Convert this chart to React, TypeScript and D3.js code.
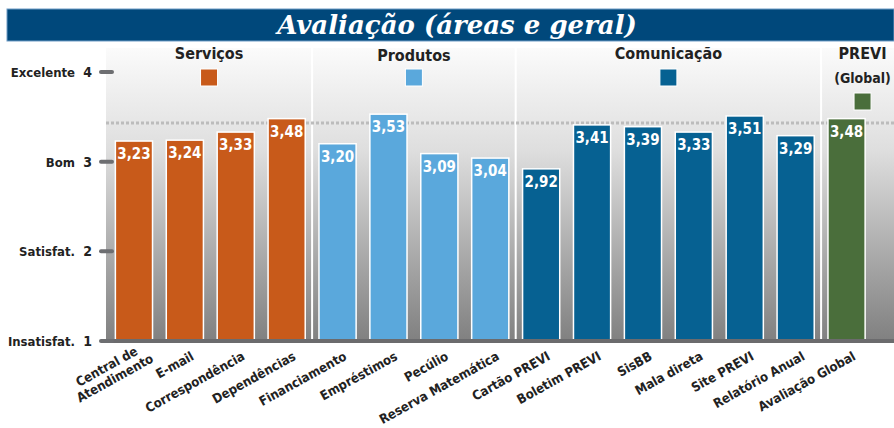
import React from 'react'
import * as d3 from 'd3'

const categories = ['Central de\nAtendimento', 'E-mail', 'Correspondência', 'Dependências', 'Financiamento', 'Empréstimos', 'Pecúlio', 'Reserva Matemática', 'Cartão PREVI', 'Boletim PREVI', 'SisBB', 'Mala direta', 'Site PREVI', 'Relatório Anual', 'Avaliação Global']
const values = [3.23, 3.24, 3.33, 3.48, 3.20, 3.53, 3.09, 3.04, 2.92, 3.41, 3.39, 3.33, 3.51, 3.29, 3.48]
const groupOf = [0, 0, 0, 0, 1, 1, 1, 1, 2, 2, 2, 2, 2, 2, 3]
const groupNames = ['Serviços', 'Produtos', 'Comunicação', 'PREVI\n(Global)']
const groupColors = ['#c85a1a', '#5aa8dc', '#066192', '#4a6e3b']
const yTicks = [1, 2, 3, 4]
const yTickNames = ['Insatisfat.', 'Satisfat.', 'Bom', 'Excelente']
const referenceLevel = 3.43

const FONT = '"DejaVu Sans Condensed", "DejaVu Sans", sans-serif'
const fmt = (v) => d3.format('.2f')(v).replace('.', ',')

const App = () => {
  const width = 894
  const height = 428
  const plotLeft = 106
  const plotRight = 894
  const plotTop = 48
  const axisY = 341

  const x = d3.scaleBand().domain(categories).range([108.5, 872]).paddingInner(0.27).paddingOuter(0.135)
  const y = d3.scaleLinear().domain([1, 4]).range([axisY, 72])
  const gap = x.step() * x.paddingInner()

  // white separators between the groups
  const seps = []
  for (let i = 0; i < categories.length - 1; i++) {
    if (groupOf[i] !== groupOf[i + 1]) seps.push(x(categories[i]) + x.bandwidth() + gap / 2)
  }
  const bounds = [plotLeft, ...seps, plotRight]

  return (
    <svg width={width} height={height} style={{ position: 'absolute', left: 0, top: 0, fontFamily: FONT }}>
      <defs>
        <linearGradient id="bg" x1="0" y1="0" x2="0" y2="1">
          <stop offset="0%" stopColor="#fbfbfb" />
          <stop offset="35%" stopColor="#dedede" />
          <stop offset="100%" stopColor="#808080" />
        </linearGradient>
      </defs>
      <rect width={width} height={height} fill="#fff" />

      {/* title */}
      <rect x={7} y={9} width={width - 7} height={32} fill="#00487b" stroke="#6e9cc6" strokeWidth={1} />
      <text x={457} y={34} textAnchor="middle" fill="#fff" fontFamily='"DejaVu Serif", serif' fontStyle="italic" fontWeight="bold" fontSize={26}>
        Avaliação (áreas e geral)
      </text>

      {/* plot background */}
      <rect x={plotLeft} y={plotTop} width={plotRight - plotLeft} height={axisY - plotTop} fill="url(#bg)" />
      {seps.map((s, i) => (
        <line key={i} x1={s} x2={s} y1={plotTop} y2={axisY} stroke="#fff" strokeWidth={2} />
      ))}
      <line x1={plotLeft} x2={plotRight} y1={y(referenceLevel)} y2={y(referenceLevel)} stroke="#bcbcbc" strokeWidth={3} strokeDasharray="3,2" />

      {/* group headers + legend squares */}
      {groupNames.map((g, gi) => {
        const cx = (bounds[gi] + bounds[gi + 1]) / 2 + (gi === 3 ? 5 : 0)
        const lines = g.split('\n')
        return (
          <g key={g}>
            {lines.map((l, li) => (
              <text key={li} x={cx} y={59 + (gi === 1 ? 2 : 0) + li * 24} textAnchor="middle" fontWeight="bold" fontSize={li ? 14 : 16} fill="#222">{l}</text>
            ))}
            <rect x={cx - 8.5} y={69 + (lines.length - 1) * 24} width={17} height={17} fill={groupColors[gi]} stroke="#fff" strokeWidth={1} />
          </g>
        )
      })}

      {/* bars */}
      {categories.map((c, i) => (
        <g key={c}>
          <rect x={x(c)} y={y(values[i])} width={x.bandwidth()} height={axisY - y(values[i])} fill={groupColors[groupOf[i]]} stroke="#fff" strokeWidth={1.5} />
          <text x={x(c) + x.bandwidth() / 2} y={y(values[i]) + 18} textAnchor="middle" fill="#fff" fontWeight="bold" fontSize={15}>{fmt(values[i])}</text>
        </g>
      ))}

      {/* axis line */}
      <line x1={plotLeft - 1} x2={plotRight} y1={axisY} y2={axisY} stroke="#6b6b6d" strokeWidth={4} strokeLinecap="round" />

      {/* y ticks */}
      {yTicks.map((t, i) => (
        <g key={t}>
          <line x1={101} x2={112} y1={y(t)} y2={y(t)} stroke="#6d6e71" strokeWidth={4} strokeLinecap="round" />
          <text x={92} y={y(t) + 5} textAnchor="end" fontWeight="bold" fontSize={14} fill="#222">{t}</text>
          <text x={75} y={y(t) + 5} textAnchor="end" fontWeight="bold" fontSize={13} fill="#222">{yTickNames[i]}</text>
        </g>
      ))}

      {/* x labels */}
      {categories.map((c) => {
        const cx = x(c) + x.bandwidth() / 2 + 10
        const lines = c.split('\n')
        const two = lines.length > 1
        return (
          <text key={c} transform={`translate(${cx},${359}) rotate(-29)`} textAnchor="end" fontWeight="bold" fontSize={13} fill="#222">
            {lines.map((l, li) => (
              <tspan key={li} x={two ? (li === 0 ? -2 : 8) : 0} dy={li === 0 ? (two ? -7 : 0) : 14}>{l}</tspan>
            ))}
          </text>
        )
      })}
    </svg>
  )
}

export default App
